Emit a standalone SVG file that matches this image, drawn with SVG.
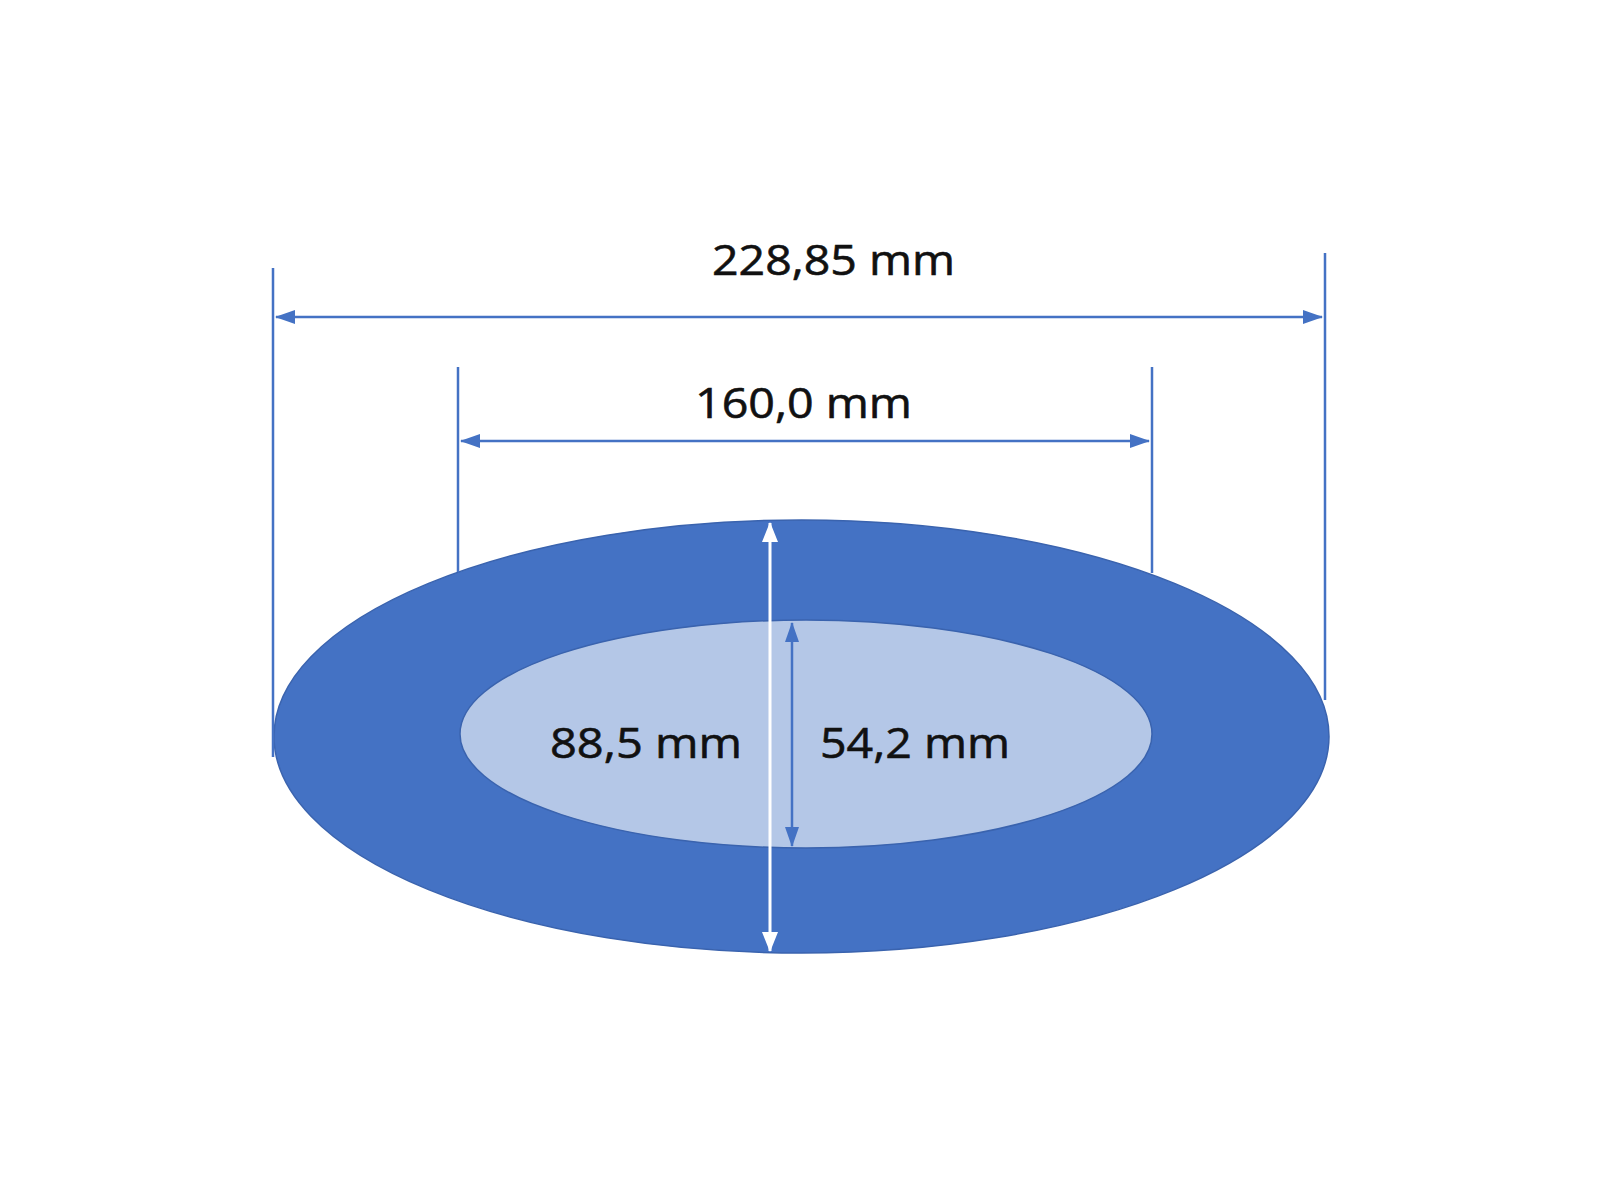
<svg xmlns="http://www.w3.org/2000/svg" width="1600" height="1200" viewBox="0 0 1600 1200">
<style>
.dim{stroke:#4472C4;stroke-width:2.5;fill:none}
.lbl{font-family:"Open Sans","Liberation Sans",sans-serif;font-size:42px;fill:#111;stroke:#111;stroke-width:0.6}
</style>
<defs>
<marker id="ab" viewBox="0 0 20 14" refX="19" refY="7" markerWidth="20" markerHeight="14" markerUnits="userSpaceOnUse" orient="auto-start-reverse"><path d="M0,0 L20,7 L0,14 Z" fill="#4472C4"/></marker>
<marker id="aw" viewBox="0 0 20 16" refX="19" refY="8" markerWidth="20" markerHeight="16" markerUnits="userSpaceOnUse" orient="auto-start-reverse"><path d="M0,0 L20,8 L0,16 Z" fill="#ffffff"/></marker>
</defs>
<rect width="1600" height="1200" fill="#ffffff"/>
<g id="ring">
<ellipse cx="801.5" cy="736.5" rx="527.5" ry="216.5" fill="#4472C4" stroke="#3A63AE" stroke-width="1.5"/>
<ellipse cx="806" cy="734" rx="346" ry="114" fill="#B4C7E7" stroke="#3A63AE" stroke-width="1.5"/>
</g>
<g id="connectors">
<line class="dim" x1="273" y1="268" x2="273" y2="757"/>
<line class="dim" x1="1325" y1="253" x2="1325" y2="700"/>
<line class="dim" x1="458" y1="367" x2="458" y2="572"/>
<line class="dim" x1="1152" y1="367" x2="1152" y2="573"/>
<line class="dim" x1="276" y1="317" x2="1322" y2="317" marker-start="url(#ab)" marker-end="url(#ab)"/>
<line class="dim" x1="461" y1="441" x2="1149" y2="441" marker-start="url(#ab)" marker-end="url(#ab)"/>
<line x1="770" y1="523" x2="770" y2="951" stroke="#ffffff" stroke-width="3" marker-start="url(#aw)" marker-end="url(#aw)"/>
<line class="dim" x1="792" y1="623" x2="792" y2="846" stroke-width="3" marker-start="url(#ab)" marker-end="url(#ab)"/>
</g>
<g id="labels">
<text class="lbl" x="712" y="275" textLength="243" lengthAdjust="spacingAndGlyphs">228,85 mm</text>
<text class="lbl" x="695" y="418" textLength="217" lengthAdjust="spacingAndGlyphs">160,0 mm</text>
<text class="lbl" x="550" y="758" textLength="192" lengthAdjust="spacingAndGlyphs">88,5 mm</text>
<text class="lbl" x="820" y="758" textLength="190" lengthAdjust="spacingAndGlyphs">54,2 mm</text>
</g>
</svg>
